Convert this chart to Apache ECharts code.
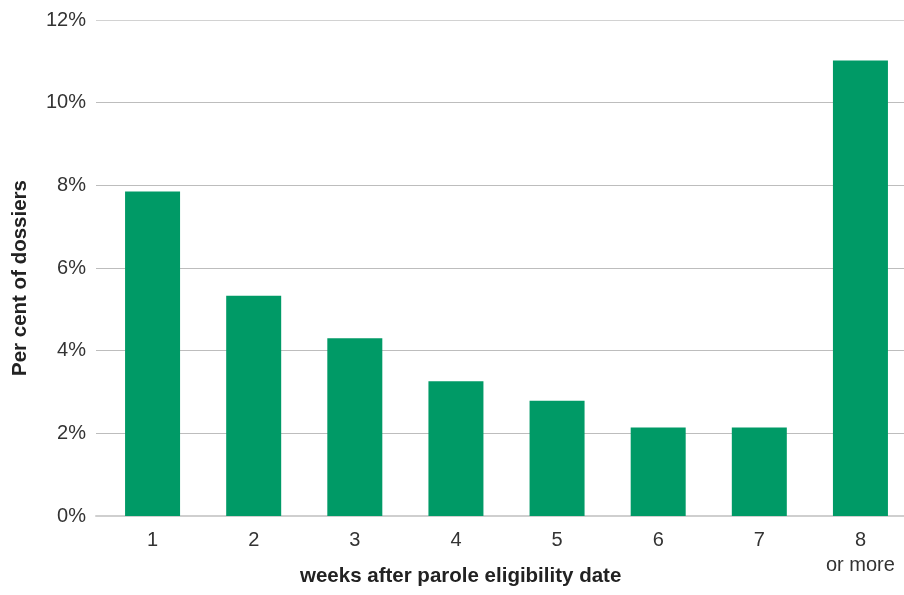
<!DOCTYPE html>
<html>
<head>
<meta charset="utf-8">
<script src="https://cdn.jsdelivr.net/npm/echarts@6/dist/echarts.min.js"></script>
<style>html,body{margin:0;padding:0;background:#fff;overflow:hidden}#c{width:911px;height:595px}</style>
</head>
<body>
<div id="c"></div>
<script>
var categories = ['1', '2', '3', '4', '5', '6', '7', '8\nor more'];
var values = [7.85, 5.33, 4.30, 3.26, 2.79, 2.14, 2.14, 11.02];
var yTicks = [0, 2, 4, 6, 8, 10, 12];
var xTitle = 'weeks after parole eligibility date';
var yTitle = 'Per cent of dossiers';

var font = 'Liberation Sans, Arial, Helvetica, sans-serif';
var chart = echarts.init(document.getElementById('c'));
chart.setOption({
  animation: false,
  backgroundColor: '#fff',
  grid: [
    {left: 96, right: 7, top: 20, bottom: 79},
    {left: 102, right: 0, top: 20, bottom: 79}
  ],
  title: {
    text: xTitle, left: 300, top: 566, padding: 0,
    textStyle: {fontFamily: font, fontSize: 20.5, fontWeight: 'bold', color: '#222'}
  },
  graphic: [{
    type: 'text', x: 20.5, y: 278, rotation: Math.PI / 2,
    style: {text: yTitle, font: 'bold 20.5px ' + font, fill: '#222', align: 'center', verticalAlign: 'middle'}
  }],
  xAxis: [
    {type: 'category', gridIndex: 0, data: categories, axisLabel: {show: false}, axisTick: {show: false},
     axisLine: {show: true, lineStyle: {color: '#cfcfcf', width: 2}}},
    {type: 'category', gridIndex: 1, data: categories, axisTick: {show: false}, axisLine: {show: false},
     axisLabel: {margin: 12, fontFamily: font, fontSize: 20, color: '#333', lineHeight: 25}}
  ],
  yAxis: [
    {type: 'value', gridIndex: 0, min: yTicks[0], max: yTicks[yTicks.length - 1], interval: 2,
     axisLine: {show: false}, axisTick: {show: false},
     axisLabel: {margin: 10, fontFamily: font, fontSize: 20, color: '#333', formatter: '{value}%'},
     splitLine: {lineStyle: {color: ['#cfcfcf', '#bdbdbd', '#bdbdbd', '#bdbdbd', '#bdbdbd', '#bdbdbd', '#d2d2d2'], width: 1}}},
    {type: 'value', gridIndex: 1, min: yTicks[0], max: yTicks[yTicks.length - 1], interval: 2, show: false,
     splitLine: {show: false}}
  ],
  series: [{
    type: 'bar', xAxisIndex: 1, yAxisIndex: 1, data: values, barWidth: 55,
    itemStyle: {color: '#009a66'}
  }]
});
</script>
</body>
</html>
